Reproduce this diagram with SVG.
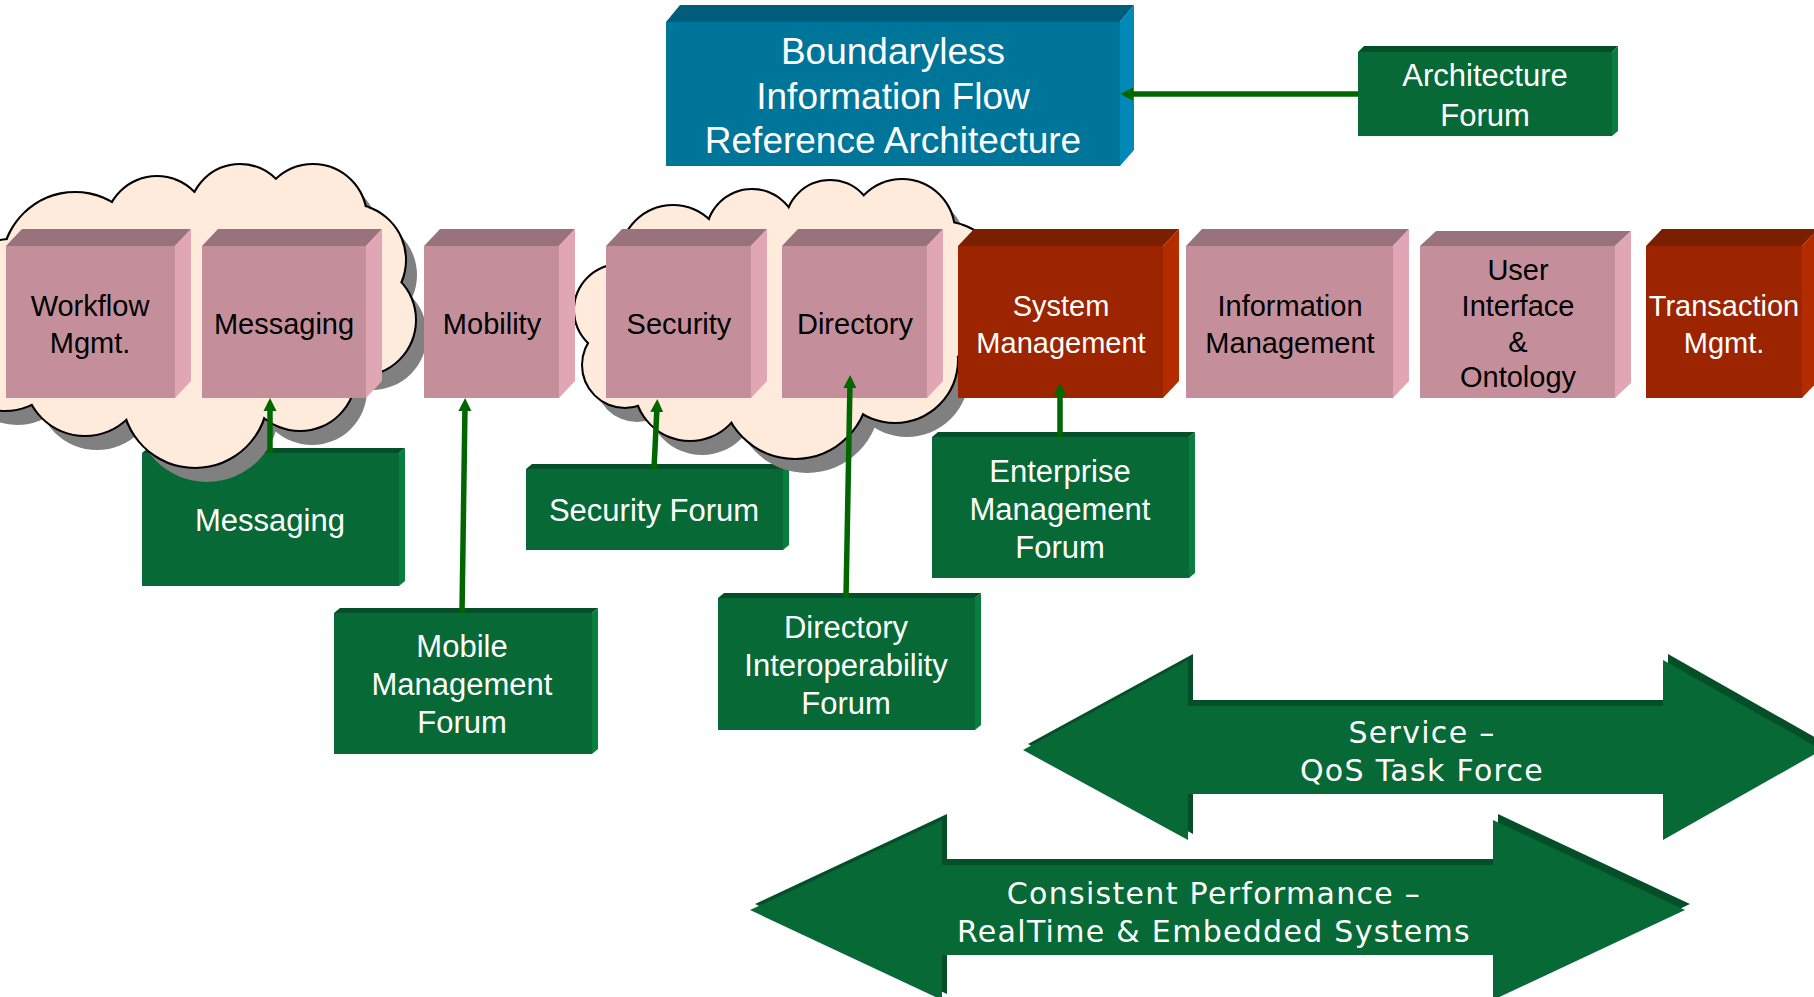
<svg xmlns="http://www.w3.org/2000/svg" xmlns:xlink="http://www.w3.org/1999/xlink" width="1814" height="997" viewBox="0 0 1814 997">
<style>
.pf{fill:#C48F9B}.pt{fill:#98737D}.ps{fill:#E0A6B4}
.rf{fill:#9C2500}.rt{fill:#7A1F00}.rs{fill:#B52B00}
.gf{fill:#076935}.gt{fill:#054F28}.gs{fill:#0A7E3E}
.bf{fill:#00759A}.bt{fill:#005E7C}.bs{fill:#0089B8}
text{font-family:"Liberation Sans",Arial,sans-serif;text-anchor:middle}
.tb{font-size:29px;fill:#000}
.tw{font-size:29px;fill:#fff}
.tg{font-size:31px;fill:#fff}
.tbig{font-size:37px;fill:#fff}
.ta{font-family:"DejaVu Sans",Verdana,sans-serif;font-size:30px;fill:#fff;letter-spacing:1.3px}
.con{stroke:#006600;stroke-width:5.5;fill:none;marker-end:url(#ah)}
</style>
<defs>
<marker id="ah" markerUnits="userSpaceOnUse" markerWidth="14" markerHeight="14" viewBox="0 0 14 14" refX="5" refY="7" orient="auto">
<path d="M0,0.5 L13,7 L0,13.5 z" fill="#006600"/>
</marker>
<g id="c1">
<circle cx="75" cy="265" r="72"/><circle cx="157" cy="228" r="51"/><circle cx="240" cy="215" r="50"/>
<circle cx="313" cy="218" r="53"/><circle cx="350" cy="260" r="55"/><circle cx="360" cy="320" r="55"/>
<circle cx="300" cy="375" r="55"/><circle cx="195" cy="395" r="72"/><circle cx="85" cy="375" r="60"/>
<circle cx="5" cy="350" r="60"/><circle cx="10" cy="290" r="50"/><circle cx="200" cy="305" r="112"/>
</g>
<g id="c2">
<circle cx="620" cy="310" r="45"/><circle cx="625" cy="365" r="42"/><circle cx="673" cy="258" r="52"/>
<circle cx="752" cy="235" r="45"/><circle cx="830" cy="225" r="44"/><circle cx="902" cy="232" r="52"/>
<circle cx="940" cy="290" r="68"/><circle cx="895" cy="360" r="62"/><circle cx="795" cy="385" r="73"/>
<circle cx="690" cy="385" r="55"/><circle cx="780" cy="305" r="95"/>
</g>
</defs>
<rect width="1814" height="997" fill="#fff"/>

<g id="arrow-qos">
<polygon fill="#054F28" transform="translate(5,-6)" points="1023,750 1188,660 1188,706 1663,706 1663,660 1822,750 1663,840 1663,794 1188,794 1188,840"/>
<polygon class="gf" points="1023,750 1188,660 1188,706 1663,706 1663,660 1822,750 1663,840 1663,794 1188,794 1188,840"/>
<text class="ta" x="1422" y="743">Service –</text>
<text class="ta" x="1422" y="781">QoS Task Force</text>
</g>
<g id="arrow-rt">
<polygon fill="#054F28" transform="translate(5,-6)" points="750,910 942,820 942,865 1493,865 1493,820 1685,910 1493,1000 1493,955 942,955 942,1000"/>
<polygon class="gf" points="750,910 942,820 942,865 1493,865 1493,820 1685,910 1493,1000 1493,955 942,955 942,1000"/>
<text class="ta" x="1214" y="904">Consistent Performance –</text>
<text class="ta" x="1214" y="942">RealTime &amp; Embedded Systems</text>
</g>

<g id="f-messaging">
<polygon class="gt" points="142,453 148,448 405,448 399,453"/><polygon class="gs" points="399,453 405,448 405,581 399,586"/>
<rect class="gf" x="142" y="453" width="257" height="133"/>
<text class="tg" x="270" y="531">Messaging</text>
</g>
<g id="f-security">
<polygon class="gt" points="526,469 532,464 789,464 783,469"/><polygon class="gs" points="783,469 789,464 789,545 783,550"/>
<rect class="gf" x="526" y="469" width="257" height="81"/>
<text class="tg" x="654" y="521">Security Forum</text>
</g>

<g id="cloud1">
<use xlink:href="#c1" href="#c1" fill="#808080" transform="translate(12,15)"/>
<use xlink:href="#c1" href="#c1" fill="none" stroke="#000" stroke-width="4"/>
<use xlink:href="#c1" href="#c1" fill="#FEEBDC"/>
</g>
<g id="cloud2">
<use xlink:href="#c2" href="#c2" fill="#808080" transform="translate(12,15)"/>
<use xlink:href="#c2" href="#c2" fill="none" stroke="#000" stroke-width="4"/>
<use xlink:href="#c2" href="#c2" fill="#FEEBDC"/>
</g>

<g id="f-mobile">
<polygon class="gt" points="334,613 340,608 598,608 592,613"/><polygon class="gs" points="592,613 598,608 598,749 592,754"/>
<rect class="gf" x="334" y="613" width="258" height="141"/>
<text class="tg" x="462" y="657">Mobile</text>
<text class="tg" x="462" y="695">Management</text>
<text class="tg" x="462" y="733">Forum</text>
</g>
<g id="f-directory">
<polygon class="gt" points="718,598 724,593 981,593 975,598"/><polygon class="gs" points="975,598 981,593 981,725 975,730"/>
<rect class="gf" x="718" y="598" width="257" height="132"/>
<text class="tg" x="846" y="638">Directory</text>
<text class="tg" x="846" y="676">Interoperability</text>
<text class="tg" x="846" y="714">Forum</text>
</g>
<g id="f-enterprise">
<polygon class="gt" points="932,437 938,432 1195,432 1189,437"/><polygon class="gs" points="1189,437 1195,432 1195,573 1189,578"/>
<rect class="gf" x="932" y="437" width="257" height="141"/>
<text class="tg" x="1060" y="482">Enterprise</text>
<text class="tg" x="1060" y="520">Management</text>
<text class="tg" x="1060" y="558">Forum</text>
</g>
<g id="f-architecture">
<polygon class="gt" points="1358,52 1364,46 1618,46 1612,52"/><polygon class="gs" points="1612,52 1618,46 1618,131 1612,136"/>
<rect class="gf" x="1358" y="52" width="254" height="84"/>
<text class="tg" x="1485" y="86">Architecture</text>
<text class="tg" x="1485" y="126">Forum</text>
</g>

<g id="boundaryless">
<polygon class="bt" points="666,22 680,5 1134,5 1120,22"/><polygon class="bs" points="1120,22 1134,5 1134,150 1120,166"/>
<rect class="bf" x="666" y="22" width="454" height="144"/>
<text class="tbig" x="893" y="64">Boundaryless</text>
<text class="tbig" x="893" y="109">Information Flow</text>
<text class="tbig" x="893" y="153">Reference Architecture</text>
</g>

<g id="workflow">
<polygon class="pt" points="6,246 22,229 191,229 175,246"/><polygon class="ps" points="175,246 191,229 191,381 175,398"/>
<rect class="pf" x="6" y="246" width="169" height="152"/>
<text class="tb" x="90" y="316">Workflow</text><text class="tb" x="90" y="353">Mgmt.</text>
</g>
<g id="messaging">
<polygon class="pt" points="202,246 218,229 382,229 366,246"/><polygon class="ps" points="366,246 382,229 382,381 366,398"/>
<rect class="pf" x="202" y="246" width="164" height="152"/>
<text class="tb" x="284" y="334">Messaging</text>
</g>
<g id="mobility">
<polygon class="pt" points="424,246 440,229 575,229 559,246"/><polygon class="ps" points="559,246 575,229 575,381 559,398"/>
<rect class="pf" x="424" y="246" width="135" height="152"/>
<text class="tb" x="492" y="334">Mobility</text>
</g>
<g id="security">
<polygon class="pt" points="606,246 622,229 767,229 751,246"/><polygon class="ps" points="751,246 767,229 767,381 751,398"/>
<rect class="pf" x="606" y="246" width="145" height="152"/>
<text class="tb" x="679" y="334">Security</text>
</g>
<g id="directory">
<polygon class="pt" points="782,246 798,229 943,229 927,246"/><polygon class="ps" points="927,246 943,229 943,381 927,398"/>
<rect class="pf" x="782" y="246" width="145" height="152"/>
<text class="tb" x="855" y="334">Directory</text>
</g>
<g id="system">
<polygon class="rt" points="958,246 974,229 1179,229 1163,246"/><polygon class="rs" points="1163,246 1179,229 1179,381 1163,398"/>
<rect class="rf" x="958" y="246" width="205" height="152"/>
<text class="tw" x="1061" y="316">System</text><text class="tw" x="1061" y="353">Management</text>
</g>
<g id="information">
<polygon class="pt" points="1186,246 1202,229 1409,229 1393,246"/><polygon class="ps" points="1393,246 1409,229 1409,381 1393,398"/>
<rect class="pf" x="1186" y="246" width="207" height="152"/>
<text class="tb" x="1290" y="316">Information</text><text class="tb" x="1290" y="353">Management</text>
</g>
<g id="userinterface">
<polygon class="pt" points="1420,246 1436,231 1631,231 1615,246"/><polygon class="ps" points="1615,246 1631,231 1631,383 1615,398"/>
<rect class="pf" x="1420" y="246" width="195" height="152"/>
<text class="tb" x="1518" y="280">User</text><text class="tb" x="1518" y="316">Interface</text>
<text class="tb" x="1518" y="352">&amp;</text><text class="tb" x="1518" y="387">Ontology</text>
</g>
<g id="transaction">
<polygon class="rt" points="1646,246 1662,229 1818,229 1802,246"/><polygon class="rs" points="1802,246 1818,229 1818,381 1802,398"/>
<rect class="rf" x="1646" y="246" width="156" height="152"/>
<text class="tw" x="1724" y="316">Transaction</text><text class="tw" x="1724" y="353">Mgmt.</text>
</g>

<g id="connectors">
<line class="con" x1="1358" y1="94" x2="1128" y2="94"/>
<line class="con" x1="270" y1="453" x2="270" y2="406"/>
<line class="con" x1="462" y1="613" x2="465" y2="406"/>
<line class="con" x1="654" y1="469" x2="657" y2="407"/>
<line class="con" x1="846" y1="598" x2="850" y2="383"/>
<line class="con" x1="1060" y1="437" x2="1060" y2="391"/>
</g>
</svg>
